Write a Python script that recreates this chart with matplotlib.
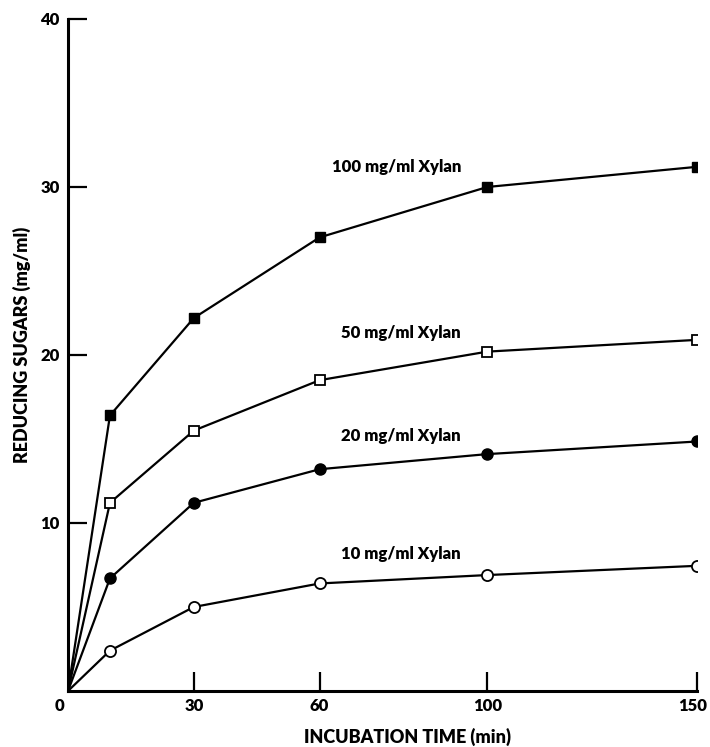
import matplotlib
matplotlib.use('Agg')
import matplotlib.pyplot as plt
from matplotlib.transforms import ScaledTranslation

plt.rcParams['font.family'] = ['Lato', 'DejaVu Sans']
plt.rcParams['font.weight'] = 'heavy'

# incubation time (min) and reducing sugars (mg/ml)
time_min = [0, 10, 30, 60, 100, 150]
xylan_100 = [0, 16.4, 22.2, 27.0, 30.0, 31.2]
xylan_50 = [0, 11.2, 15.5, 18.5, 20.2, 20.9]
xylan_20 = [0, 6.7, 11.2, 13.2, 14.1, 14.85]
xylan_10 = [0, 2.4, 5.0, 6.4, 6.9, 7.45]

series_labels = ['100 mg/ml Xylan', '50 mg/ml Xylan', '20 mg/ml Xylan', '10 mg/ml Xylan']
label_x = [63, 65, 65, 65]
label_y = [31.2, 21.3, 15.2, 8.15]

x_ticks = [0, 30, 60, 100, 150]
y_ticks = [10, 20, 30, 40]

W = 'heavy'

fig = plt.figure(figsize=(7.1, 7.47), dpi=100)
ax = fig.add_axes([0.0958, 0.075, 0.886, 0.8996])

lw = 1.6
ax.plot(time_min, xylan_100, color='black', lw=lw, marker='s', ms=7,
        mfc='black', mec='black')
ax.plot(time_min, xylan_50, color='black', lw=lw, marker='s', ms=7,
        mfc='white', mec='black', mew=1.3)
ax.plot(time_min, xylan_20, color='black', lw=lw, marker='o', ms=8,
        mfc='black', mec='black')
ax.plot(time_min, xylan_10, color='black', lw=lw, marker='o', ms=8,
        mfc='white', mec='black', mew=1.3)

# hide the marker at the origin
for line in ax.lines:
    line.set_markevery(list(range(1, len(time_min))))

for txt, lx, ly in zip(series_labels, label_x, label_y):
    ax.text(lx, ly, txt, fontsize=12, fontweight=W, ha='left', va='center')

ax.set_xlim(0, 150)
ax.set_ylim(0, 40)
ax.spines['top'].set_visible(False)
ax.spines['right'].set_visible(False)
ax.spines['left'].set_linewidth(2.2)
ax.spines['bottom'].set_linewidth(2.2)

ax.set_xticks(x_ticks)
ax.set_xticklabels([str(t) for t in x_ticks], fontsize=12, fontweight=W)
ax.set_yticks(y_ticks)
ax.set_yticklabels([str(t) for t in y_ticks], fontsize=12, fontweight=W)
ax.tick_params(axis='both', direction='in', length=14, width=1.6, pad=6)
ax.tick_params(axis='x', pad=5)
ax.xaxis.get_major_ticks()[0].tick1line.set_visible(False)

# nudge the first and last x labels like the original
xlabels = ax.get_xticklabels()
xlabels[0].set_transform(xlabels[0].get_transform() + ScaledTranslation(-9 / 100, 0, fig.dpi_scale_trans))
xlabels[-1].set_transform(xlabels[-1].get_transform() + ScaledTranslation(-4 / 100, 0, fig.dpi_scale_trans))

fig.text(0.574, 0.0134, 'INCUBATION TIME (min)', fontsize=13, fontweight=W,
         ha='center', va='center')
fig.text(0.018, 0.538, 'REDUCING SUGARS (mg/ml)', fontsize=13, fontweight=W,
         rotation=90, ha='left', va='center')

plt.savefig('out.png', dpi=100)
